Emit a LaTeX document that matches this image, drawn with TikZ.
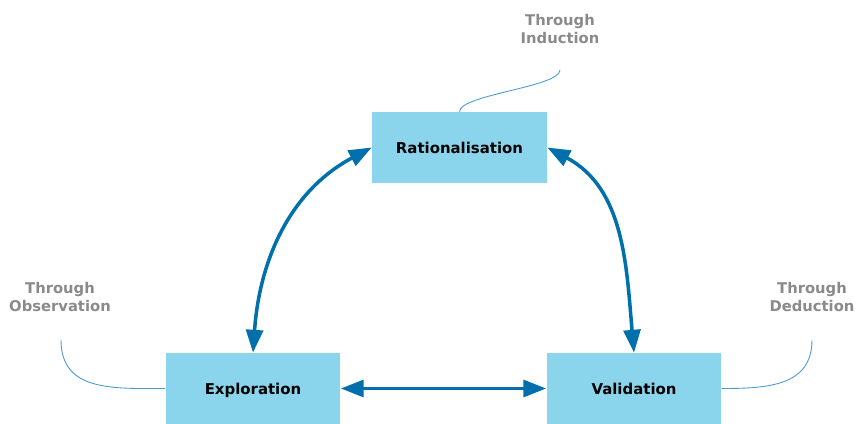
\documentclass[tikz,border=0pt]{standalone}
\usepackage{fontspec}
\setmainfont{DejaVu Sans}
\usetikzlibrary{arrows.meta}

\definecolor{boxblue}{HTML}{8BD5EC}
\definecolor{flowblue}{HTML}{0070AD}
\definecolor{noteblue}{HTML}{4A9AD0}
\definecolor{notegray}{HTML}{8A8A8A}

\begin{document}
\begin{tikzpicture}[x=0.02cm, y=-0.02cm,
    stage/.style={fill=boxblue, minimum width=3.5cm, minimum height=1.42cm, inner sep=0pt,
        text height=7.6pt, text depth=0.8pt,
        font=\bfseries\fontsize{8.5}{10}\selectfont},
    note/.style={text=notegray, align=center, font=\bfseries\fontsize{8.4}{10.2}\selectfont},
    flow/.style={flowblue, line width=2pt,
        {Triangle[length=13pt,width=9.6pt]}-{Triangle[length=13pt,width=9.6pt]}},
    callout/.style={noteblue, line width=0.5pt}]
    \useasboundingbox (0,0) rectangle (856,423);
    % Draw the three stages
    \node[stage] (ratio) at (459.5,147.5) {Rationalisation};
    \node[stage] (explo) at (253,388.5) {Exploration};
    \node[stage] (valid) at (634,388.5) {Validation};

    % Notes and their callout ends
    \node[note] (induc) at (560,29) {Through\\Induction};
    \node[note] (obser) at (60,297) {Through\\Observation};
    \node[note] (deduc) at (812,297) {Through\\Deduction};
    \coordinate (inducend) at (560,70);
    \coordinate (obserend) at (61,340);
    \coordinate (deducend) at (812,340);

    % Draw the cycle
    \draw[flow] (explo.north) to[out=86, in=208] (ratio.west);
    \draw[flow] (ratio.east) to[out=-28, in=95] (valid.north);
    \draw[flow] (explo.east) -- (valid.west);

    % Draw the callouts
    \draw[callout] (ratio.north) to[out=90, in=-90, looseness=0.4] (inducend);
    \draw[callout] (explo.west) to[out=180, in=-90, looseness=1.15] (obserend);
    \draw[callout] (valid.east) to[out=0, in=-90, looseness=1.15] (deducend);
\end{tikzpicture}
\end{document}
